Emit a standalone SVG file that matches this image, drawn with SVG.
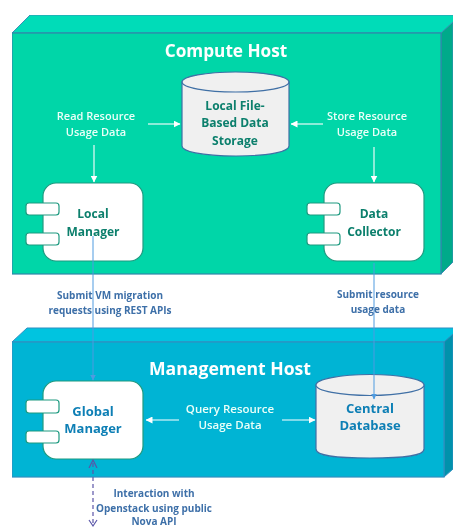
<svg xmlns="http://www.w3.org/2000/svg" width="453" height="527" viewBox="0 0 453 527">
<style>
text{font-family:"Open Sans","Noto Sans","Liberation Sans",sans-serif;font-weight:600;text-anchor:middle}
.lbl{font-size:11px;fill:#eafff8}
.title{font-size:17.2px;fill:#fff;font-weight:700}
.blue{font-size:10px;fill:#3d6fa8;font-weight:700}
.name{font-size:12px;font-weight:700;fill:#0a7f6c}
.nameb{font-size:13px;font-weight:700;fill:#0e7fb5}
.comp{fill:#fff;stroke:#1f9a80;stroke-width:1.2}
.cyl{fill:#f0f0f0;stroke:#3f6fa5;stroke-width:1.2}
.w{stroke:#fff;stroke-width:1.1;fill:none}
.b{stroke:#4f9be0;stroke-width:1;fill:none}
</style>
<defs>
<filter id="soft" x="0" y="0" width="100%" height="100%"><feGaussianBlur stdDeviation="0.4"/></filter>
<marker id="aw" markerWidth="7" markerHeight="7" refX="6.500" refY="3.500" orient="auto" markerUnits="userSpaceOnUse"><path d="M0 0L7 3.500L0 7z" fill="#fff"/></marker>
<marker id="ab" markerWidth="6" markerHeight="6" refX="5.5" refY="3" orient="auto" markerUnits="userSpaceOnUse"><path d="M0 0L6 3L0 6z" fill="#4f9be0"/></marker>
<marker id="ap" markerWidth="10" markerHeight="10" refX="9" refY="5" orient="auto" markerUnits="userSpaceOnUse"><path d="M1 1L9 5L1 9" fill="none" stroke="#5a55a8" stroke-width="1.2"/></marker>
</defs>
<rect width="453" height="527" fill="#fff"/>
<g filter="url(#soft)">
<g id="compute-host">
<path d="M12 33L30 15H459V33L441 33z" fill="#00dcb8" stroke="#3f8fb5" stroke-width="1"/>
<path d="M441 33L453 22V262L441 274z" fill="#00aa8a" stroke="#3f8fb5" stroke-width="1"/>
<rect x="12" y="33" width="429" height="241" fill="#00d6a8" stroke="#2f86a8" stroke-width="1.2"/>
<text class="title" x="226" y="57">Compute Host</text>
</g>
<g id="management-host">
<path d="M12 342L27 328H460V342H444z" fill="#00c4e0" stroke="#2f8fc0" stroke-width="1"/>
<path d="M444 342L453 334V469L444 477z" fill="#0092ac" stroke="#2f8fc0" stroke-width="1"/>
<rect x="12" y="342" width="432" height="135" fill="#00b4d4" stroke="#2f8fc0" stroke-width="1.2"/>
<text class="title" x="230" y="375" style="font-size:17.6px">Management Host</text>
</g>
<g id="local-storage">
<path class="cyl" d="M182 82V146C182 151 200 156 236 156C272 156 289 151 289 146V82z"/>
<ellipse class="cyl" cx="235.500" cy="82" rx="53.500" ry="10"/>
<text class="name" x="235" y="110">Local File-</text>
<text class="name" x="235" y="127">Based Data</text>
<text class="name" x="235" y="145">Storage</text>
</g>
<g id="local-manager">
<rect class="comp" x="43" y="183" width="100" height="78" rx="13"/>
<rect class="comp" x="26" y="203" width="33" height="12" rx="3"/>
<rect class="comp" x="26" y="233" width="33" height="12" rx="3"/>
<text class="name" x="93" y="218">Local</text>
<text class="name" x="93" y="236">Manager</text>
</g>
<g id="data-collector">
<rect class="comp" x="324" y="183" width="100" height="78" rx="13"/>
<rect class="comp" x="307" y="203" width="33" height="12" rx="3"/>
<rect class="comp" x="307" y="233" width="33" height="12" rx="3"/>
<text class="name" x="374" y="218">Data</text>
<text class="name" x="374" y="236">Collector</text>
</g>
<g id="global-manager">
<rect class="comp" x="43" y="381" width="100" height="78" rx="13"/>
<rect class="comp" x="26" y="400" width="33" height="13" rx="3"/>
<rect class="comp" x="26" y="431" width="33" height="12" rx="3"/>
<text class="nameb" x="93" y="416">Global</text>
<text class="nameb" x="93" y="433">Manager</text>
</g>
<g id="central-database">
<path class="cyl" d="M316 385V449C316 456 335 458 370 458C405 458 424 456 424 449V385z"/>
<ellipse class="cyl" cx="370" cy="385" rx="54" ry="10.500"/>
<text class="nameb" x="370" y="413">Central</text>
<text class="nameb" x="370" y="430">Database</text>
</g>
<g id="connectors">
<line class="w" x1="148" y1="124" x2="180" y2="124" marker-end="url(#aw)"/>
<line class="w" x1="323" y1="124" x2="291" y2="124" marker-end="url(#aw)"/>
<line class="w" x1="94" y1="145" x2="94" y2="182" marker-end="url(#aw)"/>
<line class="w" x1="374" y1="147" x2="374" y2="182" marker-end="url(#aw)"/>
<line class="b" x1="93" y1="236" x2="93" y2="380" marker-end="url(#ab)"/>
<line class="b" x1="374" y1="263" x2="374" y2="399" marker-end="url(#ab)"/>
<line class="w" x1="179" y1="420" x2="146" y2="420" marker-end="url(#aw)"/>
<line class="w" x1="282" y1="420" x2="315" y2="420" marker-end="url(#aw)"/>
<line x1="93" y1="523" x2="93" y2="460" stroke="#5a55a8" stroke-width="1.2" stroke-dasharray="4 3" marker-end="url(#ap)"/>
<path d="M89 520L93 526L97 520" fill="none" stroke="#5a55a8" stroke-width="1.200"/>
</g>
<g id="labels">
<text class="lbl" x="96" y="120">Read Resource</text>
<text class="lbl" x="96" y="136">Usage Data</text>
<text class="lbl" x="367" y="120">Store Resource</text>
<text class="lbl" x="367" y="136">Usage Data</text>
<text class="lbl" x="230" y="413" style="font-size:11.5px">Query Resource</text>
<text class="lbl" x="230" y="429" style="font-size:11.5px">Usage Data</text>
<text class="blue" x="110" y="299">Submit VM migration</text>
<text class="blue" x="110" y="314">requests using REST APIs</text>
<text class="blue" x="378" y="298">Submit resource</text>
<text class="blue" x="378" y="313">usage data</text>
<text class="blue" x="154" y="497">Interaction with</text>
<text class="blue" x="154" y="512">Openstack using public</text>
<text class="blue" x="154" y="525">Nova API</text>
</g>
</g>
</svg>
